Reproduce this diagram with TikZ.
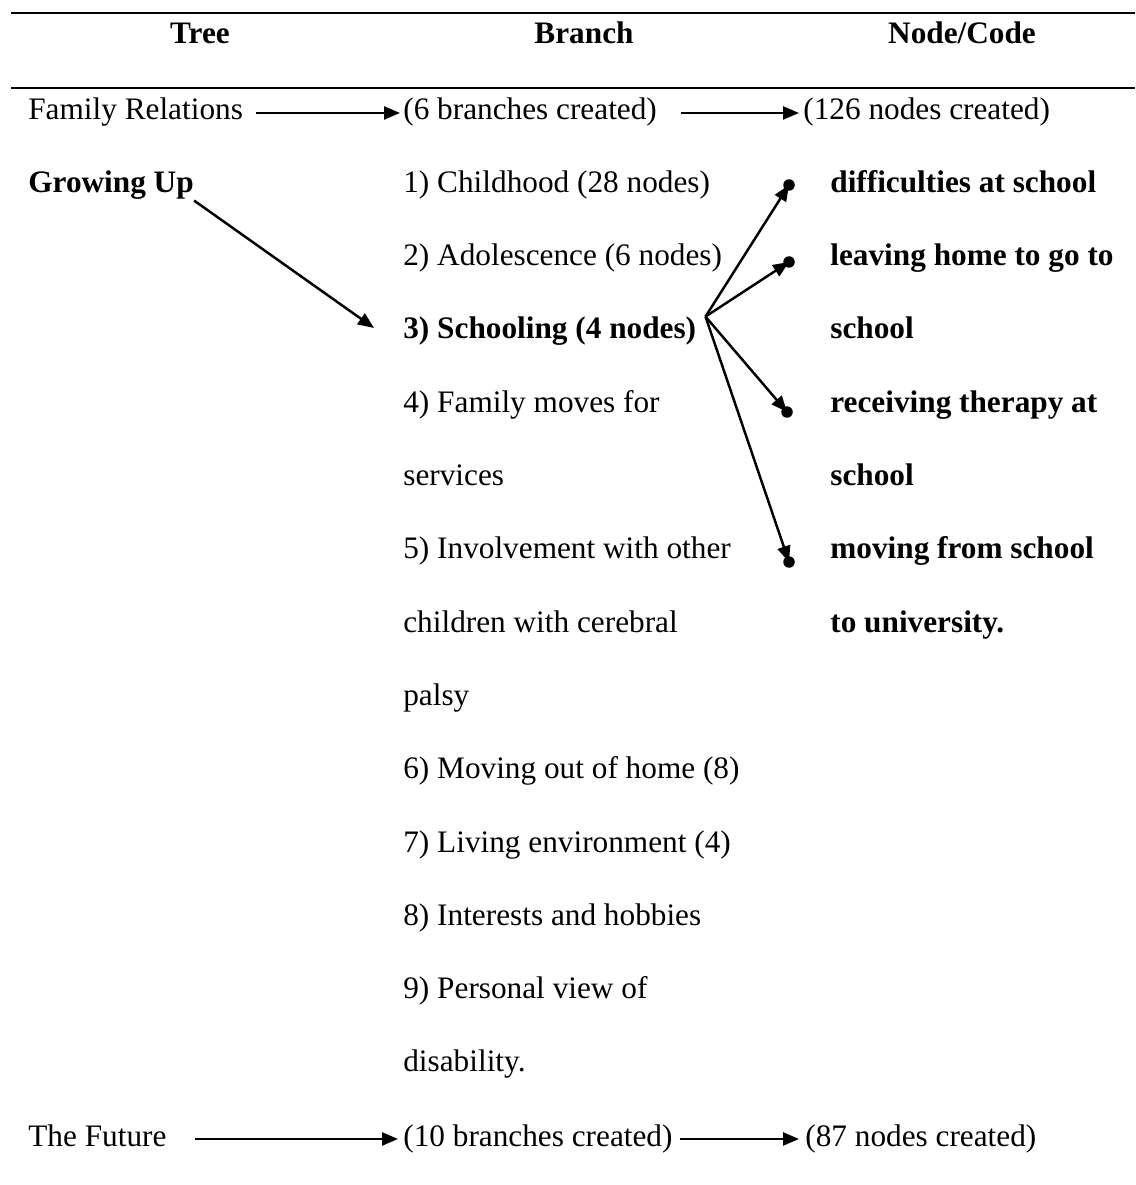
\documentclass[tikz,border=0pt]{standalone}
\usepackage{fontspec}
\setmainfont{Liberation Serif}
\usetikzlibrary{arrows.meta,calc}
\begin{document}
\begin{tikzpicture}[x=0.02cm,y=-0.02cm,
  txt/.style={anchor=base west,inner sep=0pt,text height=12.5pt,text depth=4.5pt,
    font=\fontsize{17.8pt}{21pt}\selectfont},
  bold/.style={txt,font=\fontsize{17.8pt}{21pt}\selectfont\bfseries},
  head/.style={anchor=base,inner sep=0pt,font=\fontsize{17.8pt}{21pt}\selectfont\bfseries},
  arr/.style={line width=1.4pt,-{Triangle[length=0.32cm,width=0.26cm]}},
  dot/.style={circle,fill,inner sep=0pt,minimum size=0.23cm},
  tablerule/.style={line width=1.6pt}]
\useasboundingbox (0,0) rectangle (1135,1185);

% table rules
\draw[tablerule] (11,13) -- (1135,13);
\draw[tablerule] (11,88) -- (1135,88);

% column heads
\node[head] (hTree) at (200,44) {Tree};
\node[head] (hBranch) at (584,44) {Branch};
\node[head] (hNode) at (962,44) {Node/Code};

% first tree
\node[txt] (fam) at (28,120) {Family Relations};
\node[txt] (b6) at (403,120) {(6 branches created)};
\node[txt] (n126) at (803,120) {(126 nodes created)};

% second tree and its branches
\node[bold] (grow) at (28,192.3) {Growing Up};
\node[txt]  (b1)  at (403,192.3)  {1) Childhood (28 nodes)};
\node[txt]  (b2)  at (403,265.6)  {2) Adolescence (6 nodes)};
\node[bold] (b3)  at (403,338.9)  {3) Schooling (4 nodes)};
\node[txt]  (b4a) at (403,412.2)  {4) Family moves for};
\node[txt]  (b4b) at (403,485.5)  {services};
\node[txt]  (b5a) at (403,558.8)  {5) Involvement with other};
\node[txt]  (b5b) at (403,632.1)  {children with cerebral};
\node[txt]  (b5c) at (403,705.4)  {palsy};
\node[txt]  (b6m) at (403,778.7)  {6) Moving out of home (8)};
\node[txt]  (b7)  at (403,852.0)  {7) Living environment (4)};
\node[txt]  (b8)  at (403,925.3)  {8) Interests and hobbies};
\node[txt]  (b9a) at (403,998.6)  {9) Personal view of};
\node[txt]  (b9b) at (403,1071.9) {disability.};

% codes under Schooling
\node[bold] (c1)  at (830,192.3) {difficulties at school};
\node[bold] (c2a) at (830,265.6) {leaving home to go to};
\node[bold] (c2b) at (830,338.9) {school};
\node[bold] (c3a) at (830,412.2) {receiving therapy at};
\node[bold] (c3b) at (830,485.5) {school};
\node[bold] (c4a) at (830,558.8) {moving from school};
\node[bold] (c4b) at (830,632.1) {to university.};

% third tree
\node[txt] (fut) at (28,1146) {The Future};
\node[txt] (b10) at (403,1146) {(10 branches created)};
\node[txt] (n87) at (805,1146) {(87 nodes created)};

% row arrows
\draw[arr,shorten <=0.26cm,shorten >=0.06cm] (fam.east) -- (b6.west);
\draw[arr,shorten <=0.48cm,shorten >=0.08cm] (b6.east) -- (n126.west);
\draw[arr,shorten <=0.56cm,shorten >=0.10cm] (fut.east) -- (b10.west);
\draw[arr,shorten <=0.14cm,shorten >=0.12cm] (b10.east) -- (n87.west);

% Growing Up points to Schooling
\coordinate (gend) at (374,328);
\draw[arr] (grow.south east) -- (gend);

% fan from Schooling to its codes
\coordinate (fan) at ($(b3.north east)+(9,0)$);
\node[dot] (d1) at (789,185) {};
\node[dot] (d2) at (789,262) {};
\node[dot] (d3) at (787,412) {};
\node[dot] (d4) at (789,562) {};
\draw[arr] (fan) -- (d1.center);
\draw[arr] (fan) -- (d2.center);
\draw[arr] (fan) -- (d3.center);
\draw[arr] (fan) -- (d4.center);
\end{tikzpicture}
\end{document}
